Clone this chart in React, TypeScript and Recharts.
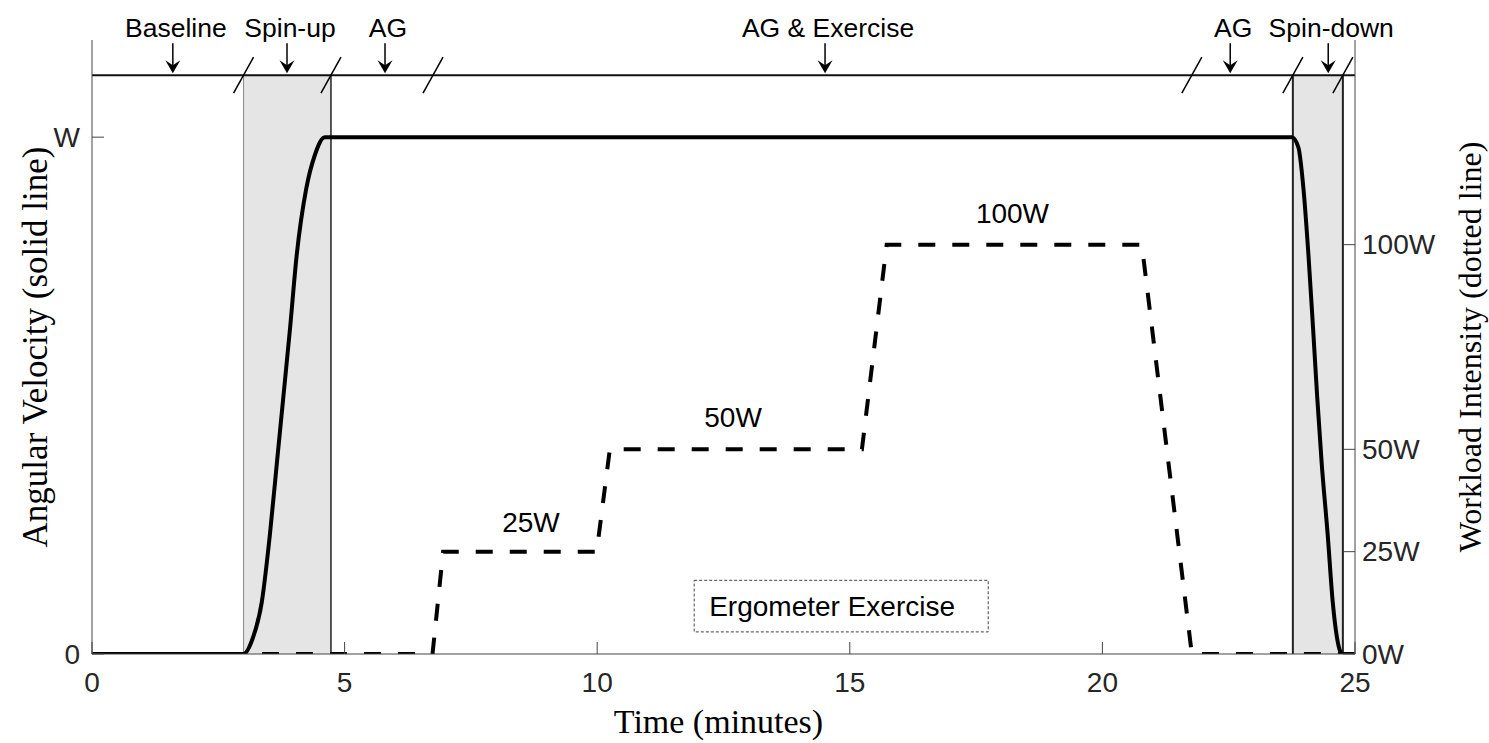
import React from "react";
import { LineChart, Line, XAxis, YAxis, ReferenceArea, ReferenceLine, ReferenceDot, Label } from "recharts";

// axes
const timeTicks = [0, 5, 10, 15, 20, 25];
const velocityTicks = [0, 1];
const workloadTicks = [0, 25, 50, 100];

// solid line: angular velocity (W = 1)
const velocityTime = [0, 3.0, 3.18, 3.36, 3.52, 3.66, 3.79, 3.92, 4.05, 4.24, 4.41, 4.61, 4.73, 23.75, 23.88, 23.98, 24.08, 24.17, 24.25, 24.34, 24.46, 24.56, 24.69, 24.75, 25];
const velocityValue = [0, 0, 0.03, 0.1, 0.23, 0.37, 0.5, 0.63, 0.77, 0.9, 0.965, 1, 1, 1, 0.98, 0.9, 0.77, 0.63, 0.5, 0.37, 0.23, 0.1, 0.01, 0, 0];

// dashed line: ergometer workload (W)
const workloadTime = [0, 6.74, 6.95, 9.99, 10.25, 15.24, 15.73, 20.78, 21.77, 25];
const workloadValue = [0, 0, 25, 25, 50, 50, 100, 100, 0, 0];

// phase annotations along the top bar
const phaseNames = ["Baseline", "Spin-up", "AG", "AG & Exercise", "AG", "Spin-down"];
const phaseArrowAt = [1.6, 3.86, 5.8, 14.51, 22.53, 24.47];
const phaseBreaks = [3.0, 4.73, 6.75, 21.77, 23.77, 24.76];
const shadedStart = [3.0, 23.77];
const shadedEnd = [4.73, 24.76];

// workload stage labels
const stageNames = ["25W", "50W", "100W"];
const stageTime = [8.69, 12.69, 18.22];
const stageLevel = [32.2, 57.7, 107.5];

const BAR = 1.12; // top phase bar, in velocity units
const SANS = "'Liberation Sans', Arial, sans-serif";
const SERIF = "'Liberation Serif', 'Times New Roman', serif";
const AXIS = "#444";
const TICK_TEXT = "#262626";

const velocityData = velocityTime.map((t, i) => ({ t, v: velocityValue[i] }));
const workloadData = workloadTime.map((t, i) => ({ t, w: workloadValue[i] }));

// ticks point into the plot, MATLAB style
function XTick({ x, y, payload }: any) {
  const axisY = y - 18;
  return (
    <g>
      <line x1={x} y1={axisY} x2={x} y2={axisY - 12} stroke={AXIS} strokeWidth={1} />
      <text x={x} y={y} dy="0.71em" textAnchor="middle" fontFamily={SANS} fontSize={28} fill={TICK_TEXT}>
        {payload.value}
      </text>
    </g>
  );
}

function LeftTick({ x, y, payload }: any) {
  const axisX = x + 12;
  return (
    <g>
      <line x1={axisX} y1={y} x2={axisX + 12} y2={y} stroke={AXIS} strokeWidth={1} />
      <text x={x} y={y} dominantBaseline="central" textAnchor="end" fontFamily={SANS} fontSize={28} fill={TICK_TEXT}>
        {payload.value === 0 ? "0" : "W"}
      </text>
    </g>
  );
}

function RightTick({ x, y, payload }: any) {
  const axisX = x - 7;
  return (
    <g>
      <line x1={axisX} y1={y} x2={axisX - 12} y2={y} stroke={AXIS} strokeWidth={1} />
      <text x={x} y={y} dominantBaseline="central" textAnchor="start" fontFamily={SANS} fontSize={28} fill={TICK_TEXT}>
        {`${payload.value}W`}
      </text>
    </g>
  );
}

function PhaseArrow({ cx, cy, name }: any) {
  return (
    <g>
      <line x1={cx} y1={cy - 32} x2={cx} y2={cy - 10} stroke="#000" strokeWidth={1.5} />
      <path d={`M${cx - 7.5},${cy - 15} L${cx},${cy - 2} L${cx + 7.5},${cy - 15} L${cx},${cy - 10} Z`} fill="#000" />
      <text x={cx + 3} y={cy - 38} textAnchor="middle" fontFamily={SANS} fontSize={26.5} fill="#000">
        {name}
      </text>
    </g>
  );
}

function Slash({ cx, cy }: any) {
  return <line x1={cx - 10} y1={cy + 18} x2={cx + 10} y2={cy - 18} stroke="#000" strokeWidth={1.5} />;
}

function CenterText({ cx, cy, text }: any) {
  return (
    <text x={cx} y={cy} textAnchor="middle" dominantBaseline="central" fontFamily={SANS} fontSize={28} fill="#000">
      {text}
    </text>
  );
}

function SideTitle({ viewBox, value, offset, size }: any) {
  const x = viewBox.x + offset;
  const y = viewBox.y + viewBox.height / 2;
  return (
    <text x={x} y={y} transform={`rotate(-90 ${x} ${y})`} textAnchor="middle" dominantBaseline="central" fontFamily={SERIF} fontSize={size} fill="#000">
      {value}
    </text>
  );
}

function BottomTitle({ viewBox, value }: any) {
  return (
    <text x={viewBox.x + viewBox.width / 2 - 5} y={viewBox.y + 79} textAnchor="middle" fontFamily={SERIF} fontSize={34} fill="#000">
      {value}
    </text>
  );
}

export default function App() {
  return (
    <div style={{ position: "absolute", left: 0, top: 0, background: "#fff" }}>
      <LineChart width={1489} height={743} margin={{ top: 40, right: 0, bottom: 0, left: 0 }}>
        <XAxis
          dataKey="t"
          type="number"
          domain={[0, 25]}
          ticks={timeTicks}
          height={89}
          tickLine={false}
          tickSize={0}
          tickMargin={18}
          tick={<XTick />}
          stroke={AXIS}
          allowDataOverflow
        >
          <Label content={(p: any) => <BottomTitle {...p} value="Time (minutes)" />} />
        </XAxis>
        <YAxis
          yAxisId="vel"
          orientation="left"
          type="number"
          domain={[0, 1.188]}
          ticks={velocityTicks}
          width={92}
          tickLine={false}
          tickSize={0}
          tickMargin={12}
          tick={<LeftTick />}
          stroke={AXIS}
          allowDataOverflow
        >
          <Label content={(p: any) => <SideTitle {...p} value="Angular Velocity (solid line)" offset={35} size={35} />} />
        </YAxis>
        <YAxis
          yAxisId="work"
          orientation="right"
          type="number"
          domain={[0, 150]}
          ticks={workloadTicks}
          width={134}
          tickLine={false}
          tickSize={0}
          tickMargin={7}
          tick={<RightTick />}
          stroke={AXIS}
          allowDataOverflow
        >
          <Label content={(p: any) => <SideTitle {...p} value="Workload Intensity (dotted line)" offset={115} size={32} />} />
        </YAxis>

        {shadedStart.map((s, i) => (
          <ReferenceArea key={`sh${i}`} yAxisId="vel" x1={s} x2={shadedEnd[i]} y1={0} y2={BAR} fill="#e5e5e5" fillOpacity={1} stroke="none" />
        ))}
        <ReferenceLine yAxisId="vel" segment={[{ x: 3.0, y: 0 }, { x: 3.0, y: BAR }]} stroke="#888" strokeWidth={1} />
        <ReferenceLine yAxisId="vel" segment={[{ x: 4.73, y: 0 }, { x: 4.73, y: BAR }]} stroke="#222" strokeWidth={1.5} />
        <ReferenceLine yAxisId="vel" segment={[{ x: 23.77, y: 0 }, { x: 23.77, y: BAR }]} stroke="#222" strokeWidth={2} />
        <ReferenceLine yAxisId="vel" segment={[{ x: 24.76, y: 0 }, { x: 24.76, y: BAR }]} stroke="#222" strokeWidth={2} />
        <ReferenceLine yAxisId="vel" y={BAR} stroke="#111" strokeWidth={2} />

        {phaseBreaks.map((t, i) => (
          <ReferenceDot key={`br${i}`} yAxisId="vel" x={t} y={BAR} r={0} shape={(p: any) => <Slash cx={p.cx} cy={p.cy} />} />
        ))}
        {phaseNames.map((n, i) => (
          <ReferenceDot key={`ph${i}`} yAxisId="vel" x={phaseArrowAt[i]} y={BAR} r={0} shape={(p: any) => <PhaseArrow cx={p.cx} cy={p.cy} name={n} />} />
        ))}

        <ReferenceArea yAxisId="work" x1={11.92} x2={17.74} y1={5.4} y2={18} fill="none" stroke="#444" strokeWidth={1} strokeDasharray="3 2" />
        <ReferenceDot yAxisId="work" x={14.65} y={11.5} r={0} shape={(p: any) => <CenterText cx={p.cx} cy={p.cy} text="Ergometer Exercise" />} />
        {stageNames.map((n, i) => (
          <ReferenceDot key={`st${i}`} yAxisId="work" x={stageTime[i]} y={stageLevel[i]} r={0} shape={(p: any) => <CenterText cx={p.cx} cy={p.cy} text={n} />} />
        ))}

        <Line
          yAxisId="work"
          data={workloadData}
          dataKey="w"
          type="linear"
          stroke="#000"
          strokeWidth={4}
          strokeDasharray="17 17"
          dot={false}
          activeDot={false}
          isAnimationActive={false}
        />
        <Line
          yAxisId="vel"
          data={velocityData}
          dataKey="v"
          type="monotone"
          stroke="#000"
          strokeWidth={4}
          dot={false}
          activeDot={false}
          isAnimationActive={false}
        />
      </LineChart>
    </div>
  );
}
